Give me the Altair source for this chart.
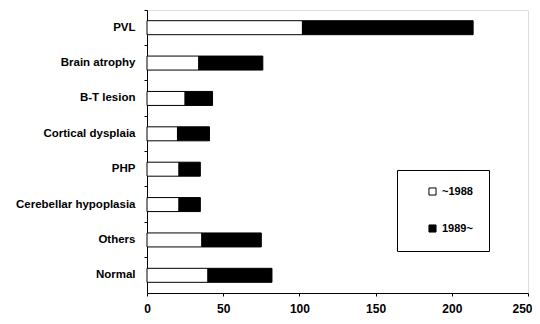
import altair as alt
import pandas as pd

categories = ["PVL", "Brain atrophy", "B-T lesion", "Cortical dysplaia",
              "PHP", "Cerebellar hypoplasia", "Others", "Normal"]
before_1988 = [102, 34, 25, 20, 21, 21, 36, 40]
after_1989 = [112, 42, 18, 21, 14, 14, 39, 42]
series = ["~1988", "1989~"]
x_ticks = [0, 50, 100, 150, 200, 250]

rows = []
for c, a, b in zip(categories, before_1988, after_1989):
    rows.append({"cat": c, "period": series[0], "value": a, "ord": 0})
    rows.append({"cat": c, "period": series[1], "value": b, "ord": 1})
df = pd.DataFrame(rows)

FONT = "Liberation Sans"

chart = alt.Chart(df).mark_bar(size=14, stroke="black", strokeWidth=1).encode(
    y=alt.Y("cat:N", sort=categories, title=None,
            scale=alt.Scale(paddingInner=0, paddingOuter=0),
            axis=alt.Axis(bandPosition=0, tickSize=3, labelPadding=9,
                          labelFont=FONT, labelFontWeight="bold", labelFontSize=11.5,
                          labelColor="black", domainColor="black", tickColor="black")),
    x=alt.X("value:Q", stack="zero", title=None,
            scale=alt.Scale(domain=[0, 250], nice=False),
            axis=alt.Axis(values=x_ticks, grid=False, tickSize=3, labelPadding=7,
                          labelFont=FONT, labelFontWeight="bold", labelFontSize=12,
                          labelColor="black", domainColor="black", tickColor="black",
                          labelFlush=False,
                          labelAlign=alt.expr("datum.value === 250 ? 'right' : 'center'"),
                          labelOffset=alt.expr("datum.value === 250 ? 4 : 0"))),
    fill=alt.Fill("period:N", sort=series,
                  scale=alt.Scale(domain=series, range=["white", "black"]),
                  legend=alt.Legend(title=None, orient="none", legendX=250, legendY=160,
                                    direction="vertical", symbolType="square",
                                    symbolSize=50, symbolStrokeColor="black",
                                    symbolStrokeWidth=1, symbolOffset=14,
                                    labelFont=FONT, labelFontWeight="bold",
                                    labelFontSize=11, labelColor="black",
                                    strokeColor="black", fillColor="white",
                                    padding=16, rowPadding=24, labelOffset=4)),
    order=alt.Order("ord:Q"),
).properties(
    width=381, height=283,
    autosize=alt.AutoSizeParams(type="none"),
    padding={"left": 139, "top": 2, "right": 4, "bottom": 23},
).configure_view(stroke=None).configure(background="white")

chart.save("out.html", embed_options={"renderer": "svg", "actions": False})
